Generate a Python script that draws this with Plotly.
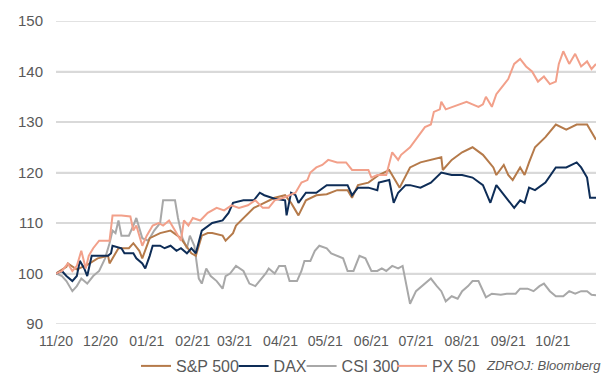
import pandas as pd
import plotly.graph_objects as go

start = pd.Timestamp("2020-11-01")

sp_days = [0,7,8,14,21,25,28,35,36,42,49,52,56,58,63,70,77,84,85,91,94,98,102,105,112,114,119,121,126,133,140,147,154,158,161,163,168,175,182,189,196,199,203,210,217,224,231,238,245,252,259,260,266,273,280,287,294,296,301,304,307,312,315,318,322,329,336,343,350,357,363]
sp_vals = [100,101.3,102,100.8,101.7,102.5,103,103.5,102,105,105,106,104.5,103,107,108,108.5,107,106.5,104,103.5,107.5,108,108,107.5,106.5,108,109.5,111,113,114,115,115.5,114,112.5,111.5,114.5,115.5,115.7,116.5,116.5,115,117.5,118,119.5,120.5,117,121,122,122.5,123,120.5,122.5,124,125,123.5,121,119.5,121.5,119.5,118.5,121,119.5,122,125,127,129.5,128.5,129.5,129.5,126.5]

dax_days = [0,4,7,11,14,16,19,21,24,31,35,37,38,44,46,52,54,58,60,63,65,70,73,77,81,84,88,91,94,98,105,112,116,119,126,133,137,140,147,154,155,158,161,163,168,175,182,189,196,199,203,210,216,217,224,227,230,235,238,245,252,259,266,273,280,287,292,296,301,304,308,312,315,318,322,329,336,343,350,353,357,359,363]
dax_vals = [100,100.5,99.5,98.5,99.5,102.5,101,99.5,103.5,103.5,103.5,104,105.5,105,104,104,103,102,101,103.5,105.5,105.5,105,105.5,104.5,105,104,105,104,108.5,110,110.5,112,114,114.5,114.5,116,115.5,114.8,114.5,111.5,116,115.5,114,116,116,117.5,117.5,117.5,115.5,117,117,116.5,118,118.5,114,116,117.5,117.5,117,118,120,119.5,119.5,119,117.5,114,117.5,115.5,114.5,113,114.5,114,117,116.5,118,121,121,122,121,119,115,115]

csi_days = [0,4,7,11,14,17,21,25,29,33,36,38,40,42,44,49,52,54,58,62,66,70,72,77,80,82,85,88,90,93,96,98,101,104,108,112,114,117,121,126,130,134,138,141,143,147,150,154,157,162,165,167,171,174,177,182,185,189,193,196,200,204,208,212,216,219,222,226,230,233,236,238,242,246,250,252,256,259,262,266,270,273,277,280,284,287,289,293,299,303,309,312,317,321,325,328,332,336,341,345,349,353,357,360,363]
csi_vals = [100,99.5,98.5,96.5,97.5,99,98,99.5,100.5,103,106,108.5,108,110.5,107.5,107.5,109.5,111,107,106.5,108.5,110,114.5,114.5,114.5,111,107,105,107.5,105.5,99,98,101,99.5,98.5,97,99.5,100,101.5,100.5,98,97.5,99,100,101,100,101.5,101.5,98.5,98.5,100.5,102.5,102.5,104.5,105.5,105,104,103.5,103,100.5,100.5,103.5,103,100.5,100.5,101,100.5,101.5,101,101.5,97,94,96.5,97.5,98.5,99,97.5,96.5,94.5,95.5,95,96.5,97.5,98.5,98.5,96.5,95.3,96,95.8,96,96,97,97,96.5,97.5,98,96.5,95.5,95.5,96.5,96,96.5,96.5,95.8,95.7]

px_days = [0,4,8,11,14,17,20,22,25,29,36,38,44,50,52,54,58,61,65,69,72,76,80,84,86,89,92,97,102,108,113,118,123,129,134,139,143,147,153,157,161,165,169,171,175,179,183,189,195,199,203,210,212,216,222,226,230,232,238,243,248,252,254,258,259,262,267,272,276,280,284,287,289,293,296,300,304,308,312,316,320,324,328,332,336,338,341,345,349,353,357,360,363]
px_vals = [100,100.5,102,100.5,101.5,104.5,101,103.5,105,106.5,106.5,111.5,111.5,111.3,108.5,109.5,105.5,107.5,109.5,110,109.5,110.5,108.5,106.5,110.5,109.5,111,110.5,112,113,112.5,113.5,113,113.5,114.5,113,113,114.5,115,115.5,116,118,118.5,120,121,121.5,122.5,122,122,120.5,120.5,120.5,119,119.5,119.5,124,122.5,123.5,125,127,129,129.5,132,132.5,134,132.5,133,133.5,134,133.5,133,133.5,135,133,135.5,137,138.5,141.5,142.5,141,140,138,139,137.5,138,141.5,144,141.5,143.5,141,142,140.5,141.5]

names = ["S&P 500", "DAX", "CSI 300", "PX 50"]
colors = ["#B57A4A", "#0E2D57", "#A8A8A8", "#F2A08A"]
series = [(sp_days, sp_vals), (dax_days, dax_vals), (csi_days, csi_vals), (px_days, px_vals)]
legend_ids = ["legend", "legend2", "legend3", "legend4"]
legend_x = [128, 225.6, 293.6, 384]

y_ticks = [90, 100, 110, 120, 130, 140, 150]
month_ticks = pd.date_range("2020-11-01", "2021-10-01", freq="MS")
month_labels = [d.strftime("%m/%y") for d in month_ticks]

W, H = 612, 375
fig = go.Figure()
order = [2, 0, 1, 3]  # draw gray first, salmon last
for i in order:
    days, vals = series[i]
    dates = start + pd.to_timedelta(days, unit="D")
    fig.add_trace(go.Scatter(x=dates, y=vals, mode="lines", name=names[i],
                             line=dict(color=colors[i], width=2),
                             legend=legend_ids[i]))

txt = "#595959"
grid_col = "#D9D9D9"
layout_legends = {}
for i, lid in enumerate(legend_ids):
    layout_legends[lid] = dict(orientation="h", xref="container", yref="container",
                               x=legend_x[i] / W, xanchor="left",
                               y=(H - 358) / H, yanchor="middle",
                               font=dict(size=16, color=txt, family="Liberation Sans, Arial, sans-serif"),
                               bgcolor="rgba(0,0,0,0)", borderwidth=0, itemwidth=30)

fig.update_layout(
    width=W, height=H,
    margin=dict(l=48, r=24, t=13, b=59, autoexpand=False),
    plot_bgcolor="white", paper_bgcolor="white",
    font=dict(family="Liberation Sans, Arial, sans-serif", color=txt),
    showlegend=True,
    **layout_legends,
)
fig.update_xaxes(type="date", range=["2020-11-01", "2021-10-30"],
                 tickvals=month_ticks, ticktext=month_labels,
                 showgrid=False, showline=False, zeroline=False, ticks="",
                 automargin=False, ticklabelstandoff=7,
                 tickfont=dict(size=14, color=txt))
fig.update_yaxes(range=[90, 150], tickvals=y_ticks,
                 showgrid=True, gridcolor=grid_col, gridwidth=1.5,
                 zeroline=False, showline=False,
                 ticks="", ticklabelstandoff=12, automargin=False,
                 tickfont=dict(size=15, color=txt))

# horizontal reference lines at each y tick (same as the gridlines)
for v in y_ticks:
    fig.add_hline(y=v, line=dict(color=grid_col, width=1.5), layer="below")

fig.add_annotation(text="<i>ZDROJ: Bloomberg</i>", xref="paper", yref="paper",
                   x=(476 - 48) / (588 - 48), xanchor="left",
                   y=-(357 - 316) / (316 - 13), yanchor="middle", showarrow=False,
                   font=dict(size=13, color=txt, family="Liberation Sans, Arial, sans-serif"))

fig.write_html("out.html")
